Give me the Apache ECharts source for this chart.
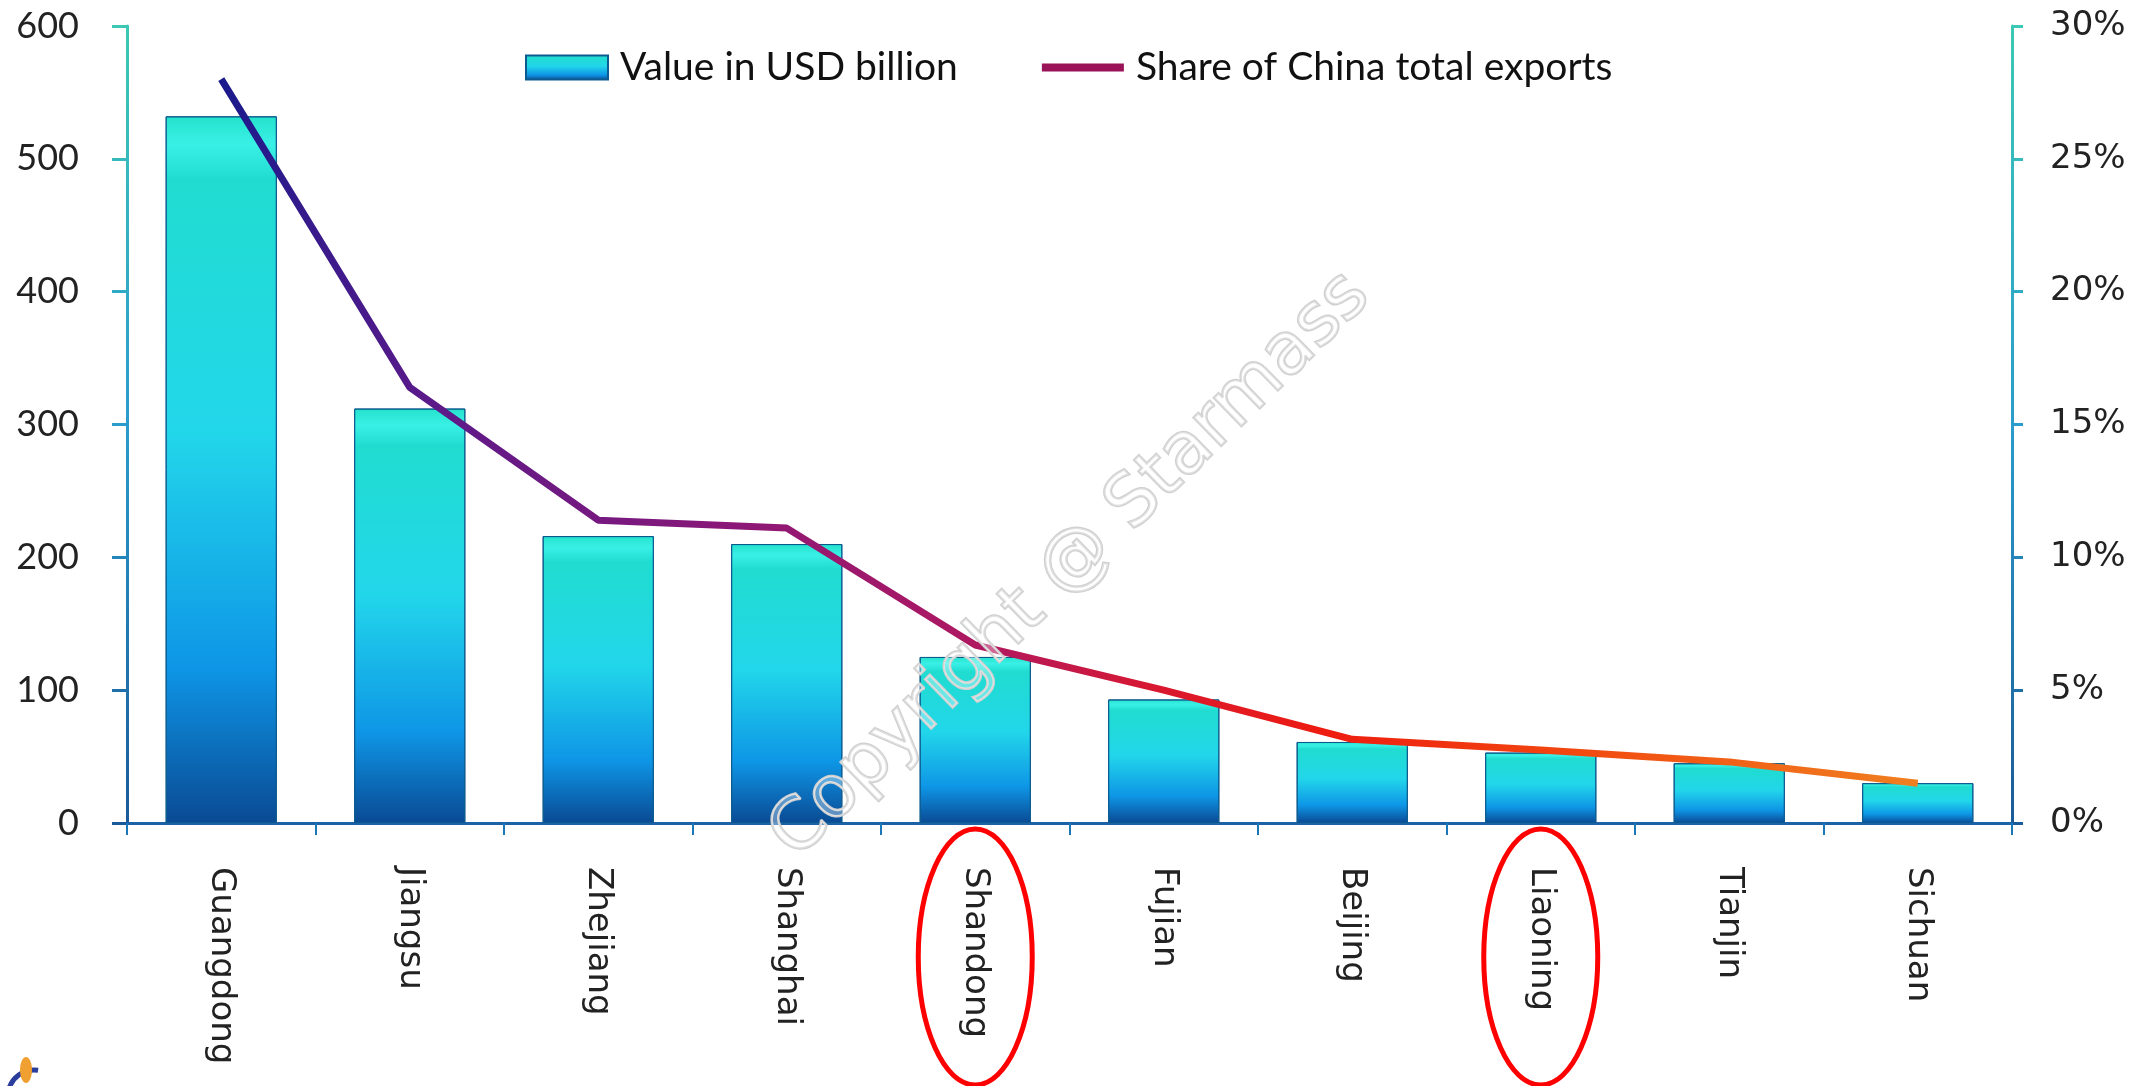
<!DOCTYPE html>
<html>
<head>
<meta charset="utf-8">
<script src="https://cdn.jsdelivr.net/npm/echarts@6/dist/echarts.min.js"></script>
<style>
html, body { margin: 0; background: #fff; }
#main { width: 2140px; height: 1086px; }
</style>
</head>
<body>
<div id="main"></div>
<script>
// provinces, export value (USD bn) and share of China total exports (%)
const categories = ['Guangdong', 'Jiangsu', 'Zhejiang', 'Shanghai', 'Shandong', 'Fujian', 'Beijing', 'Liaoning', 'Tianjin', 'Sichuan']
const exportValues = [532, 312, 216, 210, 125, 93, 61, 53, 45, 30]
const exportShare = [28.0, 16.4, 11.4, 11.1, 6.7, 5.0, 3.15, 2.75, 2.3, 1.5]
const valueAxis = { max: 600, interval: 100 }
const shareAxis = { max: 30, interval: 5 }
const highlighted = ['Shandong', 'Liaoning']

const G = echarts.graphic.LinearGradient
const chart = echarts.init(document.getElementById('main'))

// axis lines fade from teal at the top to blue at the bottom
const axisGrad = () => new G(0, 26, 0, 823, [
    { offset: 0, color: '#3cc8b4' },
    { offset: 0.5, color: '#2a9ccc' },
    { offset: 1, color: '#1a5a98' }
], true)

const barGrad = new G(0, 0, 0, 1, [
    { offset: 0, color: '#24e2cc' },
    { offset: 0.04, color: '#3af0e6' },
    { offset: 0.09, color: '#20dcd0' },
    { offset: 0.45, color: '#22d6ea' },
    { offset: 0.78, color: '#0e96e6' },
    { offset: 1, color: '#0a4a94' }
])

const lineGrad = new G(0, 0, 1, 0, [
    { offset: 0, color: '#1a1a8c' },
    { offset: 0.12, color: '#5a1a8a' },
    { offset: 0.3, color: '#8a1878' },
    { offset: 0.45, color: '#b01860' },
    { offset: 0.55, color: '#d81830' },
    { offset: 0.65, color: '#ee1c10' },
    { offset: 0.8, color: '#f24a10' },
    { offset: 1, color: '#f08020' }
])

chart.setOption({
    animation: false,
    grid: { left: 127, right: 128, top: 26, bottom: 263 },
    legend: {
        left: 520,
        top: 43,
        itemWidth: 82,
        itemHeight: 24,
        itemGap: 80,
        textStyle: { fontFamily: 'Lato', fontSize: 39, color: '#111', padding: [0, 0, 0, 7] },
        data: [
            { name: 'Value in USD billion', icon: 'rect' },
            {
                name: 'Share of China total exports',
                lineStyle: { color: '#9a1258', width: 8 },
                itemStyle: { opacity: 0 }
            }
        ]
    },
    xAxis: {
        type: 'category',
        data: categories,
        axisLine: { lineStyle: { color: '#1b62a6', width: 3 } },
        axisTick: { show: true, alignWithLabel: false, length: 12, lineStyle: { color: '#1b78b8', width: 2 } },
        axisLabel: { rotate: -90, margin: 44, fontFamily: 'DejaVu Sans', fontSize: 34, color: '#222' }
    },
    yAxis: [
        {
            type: 'value',
            min: 0,
            max: valueAxis.max,
            interval: valueAxis.interval,
            splitLine: { show: false },
            axisLine: { show: true, lineStyle: { color: axisGrad(), width: 3 } },
            axisTick: { show: true, length: 15, lineStyle: { color: axisGrad(), width: 3 } },
            axisLabel: { fontFamily: 'Lato', fontSize: 36, color: '#222', margin: 48 }
        },
        {
            type: 'value',
            position: 'right',
            min: 0,
            max: shareAxis.max,
            interval: shareAxis.interval,
            splitLine: { show: false },
            axisLine: { show: true, lineStyle: { color: axisGrad(), width: 3 } },
            axisTick: { show: true, length: 11, lineStyle: { color: axisGrad(), width: 3 } },
            axisLabel: { formatter: '{value}%', fontFamily: 'DejaVu Sans', fontSize: 34, color: '#222', margin: 38 }
        }
    ],
    series: [
        {
            name: 'Value in USD billion',
            type: 'bar',
            data: exportValues,
            barWidth: '59%',
            itemStyle: { color: barGrad, borderColor: '#0c5b8e', borderWidth: 1 }
        },
        {
            name: 'Share of China total exports',
            type: 'line',
            yAxisIndex: 1,
            data: exportShare,
            symbol: 'none',
            z: 5,
            lineStyle: { color: lineGrad, width: 7 }
        }
    ]
})

// red circles around the highlighted provinces, watermark and corner logo
const baseY = chart.convertToPixel({ yAxisIndex: 0 }, 0)
const rings = highlighted.map(name => ({
    type: 'ellipse',
    shape: { cx: chart.convertToPixel({ xAxisIndex: 0 }, name), cy: baseY + 134, rx: 57, ry: 128 },
    style: { fill: 'none', stroke: '#ff0000', lineWidth: 5 },
    z: 50
}))

chart.setOption({
    graphic: rings.concat([
        {
            type: 'text',
            x: 1071,
            y: 566,
            rotation: 44.3 * Math.PI / 180,
            z: 100,
            style: {
                text: 'Copyright @ Starmass',
                fontFamily: 'DejaVu Sans',
                fontSize: 72,
                fill: 'rgba(255,255,255,0.35)',
                stroke: '#d0d0d0',
                lineWidth: 2.5,
                align: 'center',
                verticalAlign: 'middle'
            }
        },
        {
            type: 'arc',
            shape: { cx: 34, cy: 1096, r: 26, startAngle: Math.PI * 1.05, endAngle: Math.PI * 1.55 },
            style: { stroke: '#2a3c9c', lineWidth: 5, fill: 'none' }
        },
        {
            type: 'ellipse',
            shape: { cx: 26, cy: 1070, rx: 6, ry: 13 },
            style: { fill: '#f0a030' }
        }
    ])
})
</script>
</body>
</html>
